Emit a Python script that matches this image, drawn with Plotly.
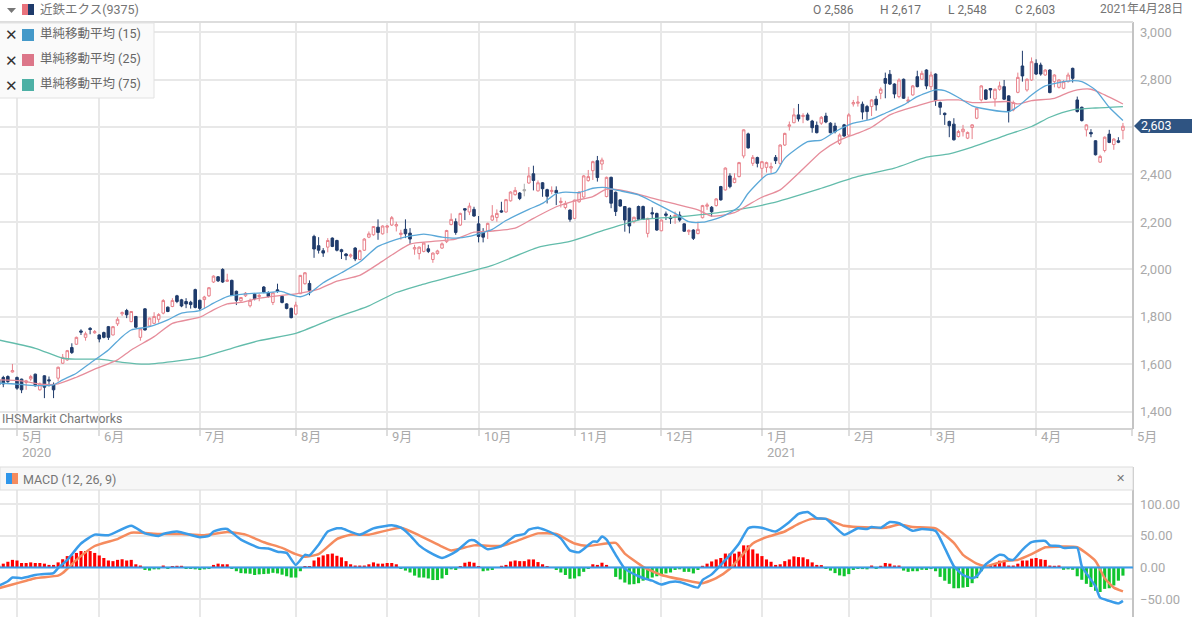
import plotly.graph_objects as go

# daily candles, Apr 2020 - Apr 2021 (index = trading day)
opens = [
    1535, 1545, 1549, 1568, 1545, 1538, 1524, 1539, 1559, 1493,
    1552, 1535, 1514, 1542, 1605, 1619, 1671, 1685, 1741, 1714,
    1752, 1733, 1724, 1734, 1759, 1724, 1771, 1813, 1827, 1780,
    1802, 1714, 1834, 1762, 1773, 1790, 1816, 1841, 1844, 1889,
    1872, 1865, 1862, 1915, 1870, 1873, 1889, 1947, 1969, 2000,
    1950, 1954, 1908, 1868, 1889, 1847, 1896, 1886, 1926, 1902,
    1861, 1914, 1887, 1855, 1836, 1812, 1898, 1940, 1941, 2139,
    2100, 2079, 2094, 2132, 2122, 2083, 2065, 2056, 2090, 2042,
    2081, 2136, 2146, 2178, 2150, 2178, 2187, 2183, 2147, 2169,
    2153, 2086, 2067, 2076, 2087, 2042, 2067, 2090, 2117, 2189,
    2201, 2187, 2256, 2242, 2253, 2192, 2156, 2160, 2208, 2219,
    2247, 2242, 2289, 2315, 2322, 2331, 2364, 2403, 2331, 2365,
    2336, 2328, 2333, 2282, 2261, 2250, 2215, 2285, 2305, 2374,
    2416, 2458, 2444, 2307, 2388, 2325, 2293, 2265, 2258, 2201,
    2265, 2265, 2152, 2239, 2236, 2163, 2234, 2220, 2222, 2229,
    2192, 2159, 2166, 2151, 2218, 2266, 2262, 2269, 2349, 2335,
    2394, 2366, 2391, 2478, 2571, 2447, 2471, 2426, 2430, 2427,
    2472, 2447, 2524, 2603, 2618, 2651, 2644, 2651, 2625, 2607,
    2616, 2646, 2616, 2604, 2531, 2609, 2566, 2697, 2700, 2696,
    2686, 2686, 2717, 2742, 2804, 2822, 2781, 2728, 2801, 2708,
    2735, 2812, 2801, 2840, 2770, 2823, 2703, 2658, 2623, 2612,
    2560, 2580, 2553, 2598, 2637, 2714, 2756, 2762, 2718, 2759,
    2770, 2731, 2672, 2746, 2857, 2756, 2798, 2868, 2861, 2819,
    2840, 2791, 2767, 2763, 2791, 2847, 2714, 2683, 2588, 2577,
    2542, 2452, 2501, 2570, 2526, 2542, 2586,
]
highs = [
    1542, 1552, 1554, 1602, 1549, 1540, 1535, 1556, 1561, 1524,
    1554, 1549, 1524, 1591, 1644, 1661, 1689, 1717, 1748, 1738,
    1757, 1745, 1727, 1738, 1762, 1762, 1799, 1823, 1834, 1825,
    1804, 1752, 1837, 1797, 1820, 1816, 1875, 1844, 1879, 1893,
    1876, 1879, 1868, 1919, 1873, 1889, 1926, 1975, 1972, 2005,
    1982, 1957, 1911, 1884, 1905, 1877, 1900, 1898, 1930, 1908,
    1905, 1940, 1891, 1858, 1839, 1864, 1977, 1989, 1954, 2146,
    2136, 2090, 2132, 2135, 2125, 2087, 2069, 2067, 2094, 2083,
    2132, 2160, 2183, 2211, 2186, 2187, 2225, 2201, 2167, 2211,
    2174, 2104, 2097, 2114, 2104, 2072, 2083, 2114, 2167, 2236,
    2215, 2239, 2257, 2281, 2264, 2225, 2174, 2197, 2271, 2253,
    2285, 2297, 2329, 2347, 2326, 2361, 2431, 2437, 2375, 2368,
    2340, 2350, 2350, 2303, 2289, 2253, 2294, 2329, 2398, 2419,
    2458, 2478, 2471, 2391, 2391, 2328, 2296, 2267, 2260, 2222,
    2269, 2269, 2218, 2262, 2239, 2211, 2244, 2229, 2244, 2244,
    2194, 2168, 2169, 2201, 2272, 2281, 2267, 2300, 2352, 2430,
    2405, 2405, 2453, 2590, 2576, 2482, 2475, 2457, 2454, 2450,
    2482, 2527, 2576, 2623, 2679, 2697, 2658, 2660, 2630, 2623,
    2646, 2660, 2620, 2618, 2573, 2613, 2658, 2714, 2731, 2707,
    2693, 2717, 2731, 2767, 2829, 2840, 2784, 2805, 2804, 2728,
    2777, 2837, 2837, 2843, 2833, 2826, 2707, 2661, 2627, 2637,
    2588, 2609, 2581, 2612, 2683, 2776, 2759, 2763, 2762, 2791,
    2798, 2734, 2711, 2829, 2921, 2805, 2893, 2885, 2871, 2843,
    2843, 2822, 2801, 2798, 2829, 2850, 2728, 2686, 2612, 2591,
    2544, 2483, 2560, 2588, 2553, 2557, 2617,
]
lows = [
    1504, 1504, 1518, 1566, 1493, 1479, 1493, 1531, 1507, 1490,
    1458, 1507, 1458, 1528, 1602, 1615, 1644, 1682, 1724, 1700,
    1727, 1729, 1693, 1710, 1703, 1722, 1762, 1804, 1795, 1778,
    1754, 1700, 1743, 1759, 1771, 1776, 1811, 1820, 1841, 1858,
    1841, 1837, 1835, 1836, 1829, 1836, 1884, 1943, 1947, 1943,
    1947, 1889, 1850, 1864, 1884, 1840, 1870, 1866, 1900, 1882,
    1850, 1902, 1857, 1832, 1794, 1809, 1896, 1936, 1891, 2049,
    2067, 2053, 2072, 2094, 2076, 2044, 2039, 2049, 2035, 2039,
    2078, 2132, 2142, 2125, 2147, 2153, 2183, 2160, 2125, 2132,
    2108, 2062, 2042, 2072, 2069, 2028, 2062, 2086, 2111, 2186,
    2146, 2183, 2208, 2229, 2222, 2114, 2114, 2128, 2204, 2201,
    2239, 2239, 2286, 2311, 2292, 2308, 2361, 2333, 2328, 2306,
    2278, 2317, 2271, 2261, 2253, 2201, 2212, 2281, 2302, 2370,
    2377, 2370, 2419, 2304, 2258, 2225, 2265, 2159, 2152, 2194,
    2208, 2208, 2135, 2215, 2163, 2161, 2208, 2192, 2192, 2201,
    2158, 2145, 2124, 2148, 2215, 2251, 2222, 2265, 2290, 2332,
    2342, 2363, 2388, 2468, 2509, 2436, 2430, 2384, 2408, 2405,
    2444, 2440, 2520, 2585, 2616, 2623, 2616, 2627, 2576, 2573,
    2609, 2616, 2573, 2573, 2524, 2559, 2562, 2686, 2686, 2632,
    2630, 2646, 2669, 2717, 2721, 2777, 2721, 2721, 2718, 2700,
    2732, 2767, 2798, 2759, 2756, 2689, 2651, 2609, 2557, 2543,
    2556, 2560, 2549, 2549, 2633, 2707, 2714, 2721, 2686, 2753,
    2714, 2619, 2666, 2742, 2791, 2749, 2794, 2819, 2816, 2816,
    2742, 2767, 2762, 2759, 2787, 2787, 2661, 2623, 2560, 2557,
    2480, 2449, 2493, 2532, 2504, 2532, 2548,
]
closes = [
    1514, 1518, 1528, 1574, 1500, 1493, 1531, 1549, 1510, 1518,
    1504, 1531, 1493, 1588, 1630, 1658, 1650, 1714, 1736, 1729,
    1747, 1738, 1707, 1714, 1714, 1759, 1790, 1818, 1809, 1823,
    1757, 1750, 1745, 1795, 1802, 1810, 1869, 1823, 1869, 1865,
    1846, 1855, 1852, 1840, 1836, 1884, 1923, 1972, 1952, 1947,
    1955, 1891, 1870, 1882, 1900, 1870, 1877, 1891, 1905, 1886,
    1902, 1908, 1861, 1836, 1797, 1850, 1975, 1986, 1912, 2086,
    2081, 2069, 2122, 2097, 2081, 2075, 2058, 2061, 2044, 2079,
    2128, 2150, 2181, 2156, 2183, 2183, 2218, 2189, 2153, 2150,
    2128, 2092, 2094, 2111, 2076, 2069, 2078, 2108, 2164, 2211,
    2156, 2236, 2250, 2267, 2225, 2139, 2136, 2194, 2226, 2236,
    2242, 2294, 2326, 2333, 2299, 2336, 2394, 2375, 2365, 2340,
    2308, 2333, 2322, 2287, 2278, 2211, 2292, 2326, 2394, 2391,
    2454, 2387, 2461, 2388, 2279, 2244, 2267, 2208, 2183, 2220,
    2211, 2211, 2215, 2234, 2166, 2208, 2228, 2214, 2228, 2208,
    2161, 2165, 2131, 2169, 2269, 2272, 2243, 2297, 2293, 2427,
    2349, 2384, 2450, 2588, 2512, 2472, 2447, 2454, 2450, 2433,
    2458, 2524, 2573, 2609, 2651, 2634, 2649, 2630, 2597, 2576,
    2641, 2621, 2576, 2580, 2566, 2562, 2651, 2703, 2705, 2663,
    2665, 2714, 2693, 2759, 2784, 2781, 2739, 2798, 2721, 2714,
    2773, 2770, 2826, 2773, 2819, 2711, 2683, 2652, 2605, 2546,
    2581, 2591, 2577, 2609, 2679, 2773, 2717, 2756, 2759, 2773,
    2717, 2665, 2703, 2809, 2815, 2801, 2875, 2823, 2823, 2840,
    2745, 2819, 2798, 2791, 2819, 2805, 2665, 2627, 2609, 2571,
    2483, 2476, 2557, 2535, 2549, 2536, 2603,
]
flat_day = 115  # the one grey candle

# moving averages, read at the bends of each line
ma15_x = [0, 4, 8, 12, 14, 17, 20, 24, 27, 29, 33, 37, 40, 44, 47, 50, 54, 59, 62, 64, 66, 68, 71, 75, 79, 83, 88, 93, 97, 100, 103, 105, 108, 111, 116, 119, 122, 124, 127, 130, 133, 135, 140, 143, 148, 151, 154, 156, 159, 162, 164, 168, 170, 172, 177, 180, 183, 187, 191, 194, 198, 201, 205, 207, 210, 213, 215, 221, 223, 226, 229, 232, 235, 237, 240, 243, 246]
ma15 = [1521, 1517, 1511, 1514, 1535, 1563, 1605, 1661, 1717, 1745, 1759, 1788, 1816, 1827, 1858, 1886, 1897, 1903, 1907, 1893, 1885, 1900, 1944, 1986, 2031, 2097, 2132, 2149, 2136, 2132, 2139, 2150, 2169, 2206, 2253, 2278, 2319, 2326, 2324, 2342, 2345, 2335, 2314, 2286, 2236, 2201, 2199, 2208, 2229, 2265, 2321, 2398, 2408, 2468, 2538, 2545, 2580, 2616, 2633, 2658, 2693, 2728, 2756, 2753, 2724, 2689, 2679, 2665, 2686, 2735, 2773, 2787, 2795, 2791, 2756, 2683, 2627]
ma25_x = [0, 5, 9, 13, 17, 21, 26, 29, 34, 38, 44, 47, 50, 53, 57, 61, 65, 70, 74, 79, 84, 90, 95, 100, 104, 108, 113, 117, 122, 126, 130, 133, 137, 143, 148, 153, 156, 161, 164, 167, 171, 175, 180, 184, 188, 191, 195, 198, 201, 205, 210, 213, 221, 223, 226, 231, 234, 236, 239, 242, 246]
ma25 = [1535, 1531, 1517, 1518, 1546, 1580, 1619, 1661, 1717, 1773, 1799, 1830, 1855, 1861, 1879, 1889, 1897, 1917, 1951, 1975, 2035, 2107, 2118, 2128, 2157, 2162, 2174, 2215, 2264, 2289, 2307, 2338, 2331, 2300, 2276, 2251, 2225, 2239, 2272, 2304, 2335, 2405, 2496, 2545, 2574, 2599, 2651, 2672, 2689, 2711, 2714, 2703, 2707, 2697, 2711, 2721, 2745, 2756, 2759, 2735, 2697]
ma75_x = [0, 8, 14, 17, 22, 27, 32, 38, 44, 51, 57, 65, 73, 81, 87, 92, 100, 108, 118, 125, 132, 140, 149, 159, 169, 180, 188, 196, 203, 208, 213, 220, 226, 230, 235, 240, 246]
ma75 = [1703, 1668, 1626, 1622, 1622, 1609, 1601, 1612, 1629, 1668, 1700, 1731, 1792, 1847, 1903, 1933, 1975, 2017, 2093, 2118, 2162, 2208, 2222, 2244, 2279, 2342, 2392, 2427, 2473, 2487, 2515, 2563, 2602, 2641, 2672, 2680, 2686]

# MACD (12, 26, 9)
macd_x = [0, 2, 3, 5, 8, 9, 11, 12, 13, 15, 18, 21, 24, 29, 32, 35, 36, 39, 44, 46, 47, 49, 50, 53, 57, 59, 61, 63, 65, 67, 68, 70, 72, 74, 75, 79, 82, 86, 88, 90, 92, 94, 97, 100, 103, 104, 107, 110, 113, 115, 116, 118, 121, 123, 125, 127, 130, 131, 132, 133, 135, 137, 140, 142, 143, 145, 147, 149, 153, 154, 156, 159, 160, 162, 164, 165, 167, 170, 173, 175, 177, 179, 181, 185, 188, 190, 191, 193, 195, 197, 200, 202, 205, 207, 209, 211, 213, 214, 216, 219, 220, 221, 222, 224, 226, 229, 230, 232, 233, 236, 237, 240, 241, 243, 245, 246]
macd = [-29, -22, -16, -17, -12, -11, -10, -9, -1, 12, 38, 52, 51, 66, 54, 50, 53, 57, 48, 50, 57, 61, 61, 44, 31, 30, 25, 23, 4, 20, 19, 36, 57, 62, 62, 52, 62, 67, 63, 51, 35, 25, 15, 25, 43, 43, 29, 34, 50, 53, 60, 63, 55, 46, 27, 24, 41, 41, 49, 44, 20, -2, -14, -19, -21, -27, -23, -23, -32, -20, -11, 12, 20, 38, 62, 64, 63, 57, 72, 85, 88, 78, 77, 52, 62, 61, 64, 63, 72, 70, 58, 61, 58, 31, 2, -12, -17, -14, 5, 20, 19, 13, 12, 28, 40, 42, 35, 34, 31, 31, 2, -30, -48, -53, -57, -53]
signal_x = [0, 3, 6, 8, 13, 14, 17, 21, 26, 29, 35, 40, 45, 50, 54, 58, 62, 65, 67, 70, 74, 77, 81, 88, 92, 97, 99, 104, 110, 113, 118, 122, 126, 129, 135, 137, 141, 145, 150, 154, 157, 160, 165, 168, 172, 175, 178, 181, 185, 188, 194, 197, 200, 205, 209, 211, 214, 216, 220, 223, 226, 229, 232, 236, 240, 242, 244, 246]
signal = [-33, -27, -21, -17, -13, -9, 12, 34, 45, 55, 53, 53, 51, 56, 52, 40, 31, 21, 17, 21, 45, 52, 52, 63, 51, 33, 27, 35, 34, 41, 54, 53, 38, 34, 39, 22, 1, -12, -20, -25, -17, -2, 38, 48, 57, 69, 77, 77, 66, 64, 63, 68, 64, 62, 39, 20, 6, 2, 10, 12, 21, 32, 33, 32, 10, -17, -32, -38]
hist = [
    3, 6, 9, 12, 11, 7, 7, 8, 7, 7,
    6, 4, 4, 8, 13, 18, 19, 23, 26, 26,
    26, 23, 19, 15, 11, 10, 12, 13, 11, 12,
    5, 3, -4, -5, -3, -3, 3, -1, 2, 2.6,
    2.6, -1, -2, -3, -4, -3, -1, 4, 6, 5,
    5, -2, -6, -9, -9.5, -10, -12, -11, -10.5, -10,
    -8.5, -9.5, -11.5, -14, -16, -16, -6, 2, 2, 11,
    16, 19, 21, 22, 18.5, 16, 10, 5, 3, 3,
    3, 5, 8, 6, 6, 7, 7, 5, -2, -5,
    -8, -13, -16, -16, -17.5, -20, -20, -17.5, -12, -3,
    -4, 1.6, 7.5, 9, 7.5, 2, -6, -5, -4, -0.5,
    2.6, 4, 9.5, 11, 10, 10, 12.7, 12.7, 8.5, 5,
    2, 0.5, -4, -8, -12, -18, -17.5, -14, -7, -1.5,
    5, 4, 7.5, 4, -0.5, -15, -19, -24, -27, -26.5,
    -25, -21, -19, -16, -14, -11.6, -9.5, -8, -4, -3,
    -7, -7, -9.5, -4, 2.6, 6, 9.5, 12.7, 15, 22,
    22, 22, 25, 35, 35, 28.6, 22, 18, 12.7, 9,
    4, 5, 10, 12.7, 17.5, 16.4, 16, 13, 8, 4,
    3.7, -1, -5, -9, -12.7, -14, -10.6, -4, -2, -2.6,
    -3, 3, -1, 2.6, 7, 6, 3, 3, -5, -7,
    -6, -6, -3.7, -4, -2.6, -6, -15, -21, -26, -33,
    -33, -32, -31, -25, -17, -6, 1.6, 4, 7, 10.6,
    9.5, 3, 3, 6, 11, 11, 14, 15, 13, 12,
    3, 2.6, 3, -3.7, -3, -3.7, -14, -19.6, -26, -31,
    -37, -39, -34, -33, -28.6, -21, -13,
]

month_idx = [4, 22, 44, 65, 85, 105, 126, 145, 167, 186, 204, 227, 248]
month_labels = ['5月', '6月', '7月', '8月', '9月', '10月', '11月', '12月', '1月', '2月', '3月', '4月', '5月']
year_idx = [4, 167]
year_labels = ['2020', '2021']
price_ticks = [1400, 1600, 1800, 2000, 2200, 2400, 2600, 2800, 3000]
# the 2,600 label sits under the last price flag
price_tick_text = ['1,400', '1,600', '1,800', '2,000', '2,200', '2,400', '', '2,800', '3,000']
macd_ticks = [-50, 0, 50, 100]
ma_names = ['単純移動平均 (15)', '単純移動平均 (25)', '単純移動平均 (75)']

FONT = 'Roboto, "Noto Sans CJK JP", sans-serif'
GRID = '#e8e8e8'
TICK = '#a9a9a9'
W, H = 1200, 617
RIGHT = 1133


def px(x):
    return x / W


def py(y):
    return 1 - y / H


def label(x, y, text, size=12, color='#757575', anchor='left', font=FONT):
    # annotations carry about 2px of padding on the left
    x = x - 2 if anchor == 'left' else x
    fig.add_annotation(xref='paper', yref='paper', x=px(x), y=py(y), text=text, showarrow=False,
                       xanchor=anchor, yanchor='middle', font=dict(family=font, size=size, color=color))


def box(x0, y0, x1, y1, fill, line=None):
    fig.add_shape(type='rect', xref='paper', yref='paper', x0=px(x0), y0=py(y0), x1=px(x1), y1=py(y1),
                  fillcolor=fill, line=dict(color=line or fill, width=1 if line else 0), layer='above')


fig = go.Figure()

days = [i for i in range(len(opens)) if i != flat_day]
fig.add_trace(go.Candlestick(
    x=days, open=[opens[i] for i in days], high=[highs[i] for i in days],
    low=[lows[i] for i in days], close=[closes[i] for i in days],
    increasing=dict(line=dict(color='#e8808a', width=1), fillcolor='#ffffff'),
    decreasing=dict(line=dict(color='#1f3b6b', width=1), fillcolor='#1f3b6b'),
    whiskerwidth=0, showlegend=False,
))
fig.add_trace(go.Candlestick(
    x=[flat_day], open=[opens[flat_day]], high=[highs[flat_day]], low=[lows[flat_day]], close=[closes[flat_day]],
    increasing=dict(line=dict(color='#ababab', width=1), fillcolor='#ababab'),
    decreasing=dict(line=dict(color='#ababab', width=1), fillcolor='#ababab'),
    whiskerwidth=0, showlegend=False,
))
fig.add_trace(go.Scatter(x=ma75_x, y=ma75, mode='lines', line=dict(color='#63bcab', width=1.3, shape='spline', smoothing=0.6), showlegend=False))
fig.add_trace(go.Scatter(x=ma25_x, y=ma25, mode='lines', line=dict(color='#e68d9b', width=1.3, shape='spline', smoothing=0.6), showlegend=False))
fig.add_trace(go.Scatter(x=ma15_x, y=ma15, mode='lines', line=dict(color='#5ba8d8', width=1.3, shape='spline', smoothing=0.6), showlegend=False))

fig.add_trace(go.Bar(x=list(range(len(hist))), y=hist, xaxis='x2', yaxis='y2', width=0.68,
                     marker=dict(color=['#ff0000' if v > 0 else '#10c52e' for v in hist], line=dict(width=0)),
                     showlegend=False))
fig.add_trace(go.Scatter(x=signal_x, y=signal, xaxis='x2', yaxis='y2', mode='lines',
                         line=dict(color='#f58b5e', width=2.5, shape='spline', smoothing=0.5), showlegend=False))
fig.add_trace(go.Scatter(x=macd_x, y=macd, xaxis='x2', yaxis='y2', mode='lines',
                         line=dict(color='#3a9ce9', width=2.5, shape='spline', smoothing=0.5), showlegend=False))

x_range = [0.28, 248.2]
common_x = dict(range=x_range, tickmode='array', tickvals=month_idx, showticklabels=False,
                showgrid=True, gridcolor=GRID, gridwidth=1.5, zeroline=False, showline=False)
common_y = dict(side='right', showgrid=True, gridcolor=GRID, gridwidth=1.5, zeroline=False,
                showline=False, tickfont=dict(family=FONT, size=13, color=TICK), ticks='', ticklabelstandoff=6)

fig.update_layout(
    width=W, height=H, margin=dict(l=0, r=0, t=0, b=0), autosize=False,
    paper_bgcolor='#ffffff', plot_bgcolor='#ffffff', font=dict(family=FONT),
    boxgap=0.2, bargap=0.3, hovermode=False,
    xaxis=dict(common_x, domain=[0, RIGHT / W], anchor='y', rangeslider=dict(visible=False),
               ticks='outside', ticklen=6, tickcolor='#dddddd', tickwidth=1.5),
    yaxis=dict(common_y, domain=[py(429), py(23)], anchor='x', range=[1328, 3038],
               tickmode='array', tickvals=price_ticks, ticktext=price_tick_text),
    xaxis2=dict(common_x, domain=[0, RIGHT / W], anchor='y2'),
    yaxis2=dict(common_y, domain=[0, py(490)], anchor='x2', range=[-78.6, 122.8],
                tickmode='array', tickvals=macd_ticks, tickformat='.2f'),
)

# frame lines
for y0, y1 in [(22, 429), (467, 617)]:
    fig.add_shape(type='line', xref='paper', yref='paper', x0=px(RIGHT), x1=px(RIGHT), y0=py(y0), y1=py(y1),
                  line=dict(color='#c4c4c4', width=2), layer='above')
fig.add_shape(type='line', xref='paper', yref='paper', x0=0, x1=px(RIGHT), y0=py(22), y1=py(22),
              line=dict(color='#dddddd', width=2), layer='above')
fig.add_shape(type='line', xref='paper', yref='paper', x0=0, x1=px(RIGHT), y0=py(429), y1=py(429),
              line=dict(color='#c4c4c4', width=1.5), layer='above')

# January divider runs through both panels
fig.add_shape(type='line', xref='x', yref='paper', x0=month_idx[8], x1=month_idx[8], y0=py(23), y1=py(436),
              line=dict(color='#bdbdbd', width=1.5), layer='below')
fig.add_shape(type='line', xref='x2', yref='paper', x0=month_idx[8], x1=month_idx[8], y0=py(490), y1=0,
              line=dict(color='#bdbdbd', width=1.5), layer='below')

# MACD zero line sits on top of the bars
fig.add_shape(type='line', xref='x2', yref='y2', x0=x_range[0], x1=x_range[1], y0=0, y1=0,
              line=dict(color='#3a9ce9', width=2), layer='above')

# month and year labels start just right of their gridline
for idx, text in zip(month_idx, month_labels):
    fig.add_annotation(xref='x', yref='paper', x=idx, y=py(436), text=text, showarrow=False, xanchor='left',
                       xshift=3, yanchor='middle', font=dict(family=FONT, size=13, color=TICK))
for idx, text in zip(year_idx, year_labels):
    fig.add_annotation(xref='x', yref='paper', x=idx, y=py(452), text=text, showarrow=False, xanchor='left',
                       xshift=3, yanchor='middle', font=dict(family=FONT, size=13, color=TICK))

# title bar
fig.add_shape(type='path', xref='paper', yref='paper', layer='above', fillcolor='#777777', line=dict(width=0),
              path=f'M {px(7)} {py(8)} L {px(16)} {py(8)} L {px(11.5)} {py(13)} Z')
box(22, 4, 28, 15, '#e8727c')
box(28, 4, 34, 15, '#1f3b6b')
label(40, 9, '近鉄エクス(9375)', size=12.5, color='#757575')
for x, text in zip([813, 880, 948, 1015], ['O 2,586', 'H 2,617', 'L 2,548', 'C 2,603']):
    label(x, 10, text, size=12, color='#6f6f6f')
label(1100, 8.5, '2021年4月28日', size=12, color='#757575')

# indicator legend
box(-3, 23, 154, 98, '#fafafa', '#e2e2e2')
for y, color, text in zip([35, 60, 85], ['#4499c9', '#dc7689', '#4db0a5'], ma_names):
    label(11, y + 0.5, '✕', size=15, color='#333333', anchor='center', font='DejaVu Sans')
    box(22, y - 6, 34, y + 6, color)
    label(40, y - 1, text, size=12.5, color='#666666')

label(2, 419, 'IHSMarkit Chartworks', size=12.3, color='#777777')

# last price flag
fig.add_shape(type='path', xref='paper', yref='paper', layer='above', fillcolor='#2f5482', line=dict(width=0),
              path=f'M {px(1134)} {py(126)} L {px(1141)} {py(119)} L {px(1192)} {py(119)} L {px(1192)} {py(133)} L {px(1141)} {py(133)} Z')
label(1141, 126, '2,603', size=12.5, color='#ffffff')

# MACD header
box(0, 467, RIGHT, 490, '#f7f7f7', '#dddddd')
box(6, 473, 12, 484, '#2f96ea')
box(12, 473, 18, 484, '#f58b5e')
label(23, 479, 'MACD (12, 26, 9)', size=12.5, color='#757575')
label(1120, 478, '✕', size=11, color='#777777', anchor='center', font='DejaVu Sans')

# page has a default 8px body margin that would push the chart off the window
fig.write_html("out.html", config={'displayModeBar': False}, post_script="document.body.style.margin='0';")
